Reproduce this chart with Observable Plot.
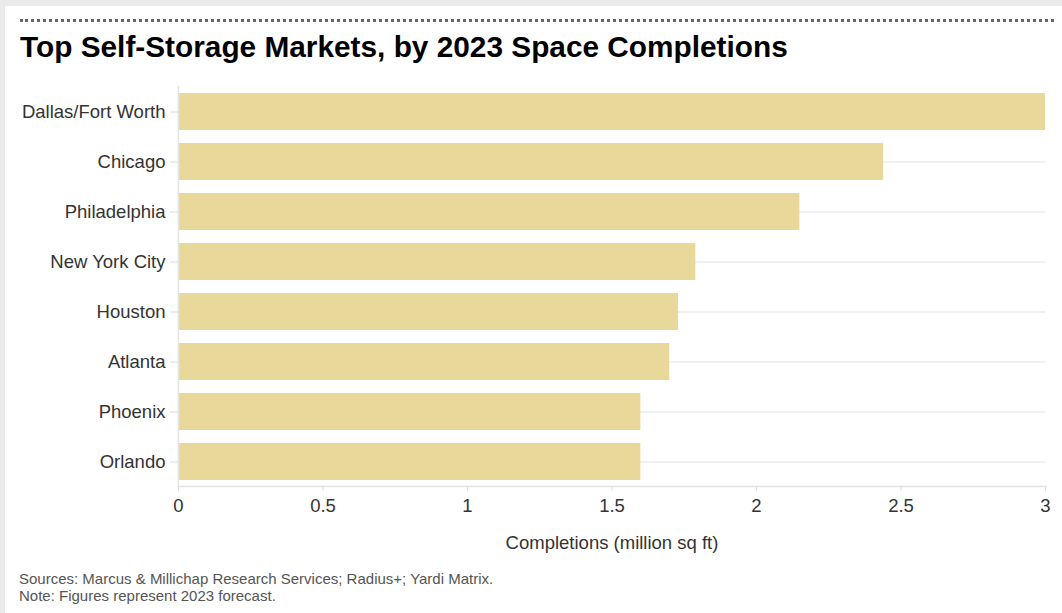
<!DOCTYPE html>
<html>
<head>
<meta charset="utf-8">
<script src="https://cdn.jsdelivr.net/npm/d3@7"></script>
<script src="https://cdn.jsdelivr.net/npm/@observablehq/plot@0.6"></script>
<style>
  html, body { margin: 0; padding: 0; }
  body { width: 1062px; height: 613px; background: #ebebeb; position: relative; overflow: hidden;
         font-family: "Liberation Sans", Arial, sans-serif; }
  #card { position: absolute; left: 5px; top: 6px; right: 0; bottom: 0; background: #fff; }
  #dots { position: absolute; left: 20px; top: 19px; width: 1034px; border-top: 3px dotted #666; }
  #title { position: absolute; left: 20px; top: 30px; font-size: 29.8px; font-weight: bold; color: #000; white-space: nowrap; }
  #chart { position: absolute; left: 0; top: 70px; }
  #caption { position: absolute; left: 19px; top: 570px; font-size: 15px; line-height: 17px; color: #555; }
</style>
</head>
<body>
<div id="card"></div>
<div id="dots"></div>
<div id="title">Top Self-Storage Markets, by 2023 Space Completions</div>
<div id="chart"></div>
<div id="caption">Sources: Marcus &amp; Millichap Research Services; Radius+; Yardi Matrix.<br>Note: Figures represent 2023 forecast.</div>
<script>
const markets = ["Dallas/Fort Worth", "Chicago", "Philadelphia", "New York City", "Houston", "Atlanta", "Phoenix", "Orlando"];
const completions = [3.0, 2.44, 2.15, 1.79, 1.73, 1.7, 1.6, 1.6];
const xTicks = [0, 0.5, 1, 1.5, 2, 2.5, 3];
const xLabel = "Completions (million sq ft)";

const data = markets.map((m, i) => ({market: m, value: completions[i]}));

const chart = Plot.plot({
  width: 1062,
  height: 490,
  marginTop: 16,
  marginLeft: 178,
  marginRight: 17,
  marginBottom: 74,
  style: {fontFamily: "'Liberation Sans', Arial, sans-serif", fontSize: "18.5px", background: "transparent", overflow: "visible"},
  x: {domain: [0, 3], ticks: xTicks},
  y: {domain: markets, paddingInner: 0.26, paddingOuter: 0.13, align: 0.5},
  marks: [
    Plot.gridY({stroke: "#ececec", strokeOpacity: 1, strokeWidth: 1.5}),
    Plot.barX(data, {x: "value", y: "market", fill: "#e8d99b"}),
    Plot.ruleX([0], {stroke: "#e3e3e3", strokeWidth: 1.5}),
    Plot.frame({anchor: "bottom", stroke: "#e3e3e3", strokeWidth: 1.5}),
    Plot.axisY({tickSize: 8, tickPadding: 5, stroke: "#dddddd", fill: "#333", label: null, fontSize: 18.5}),
    Plot.axisX({ticks: xTicks, tickSize: 5, tickPadding: 7, stroke: "#dddddd", fill: "#333", label: null, fontSize: 18.5,
      tickFormat: d => String(d)}),
    Plot.text([xLabel], {frameAnchor: "bottom", dy: 62, text: d => d, fill: "#333", fontSize: 18.5})
  ]
});
document.getElementById("chart").appendChild(chart);
</script>
</body>
</html>
